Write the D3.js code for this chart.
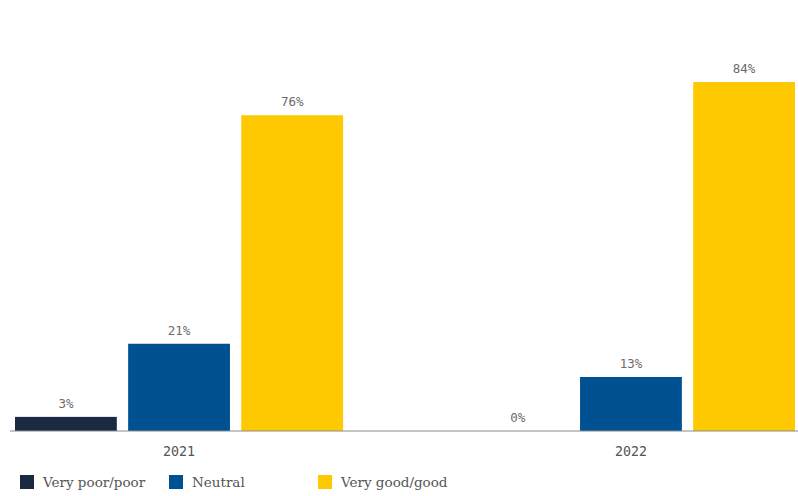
<!DOCTYPE html>
<html>
<head>
<meta charset="utf-8">
<script src="https://cdn.jsdelivr.net/npm/d3@7"></script>
<style>
  body { margin: 0; background: #fff; }
</style>
</head>
<body>
<svg id="chart" width="798" height="496"></svg>
<script>
  // data (labels are rounded)
  var years = ['2021', '2022'];
  var ratings = ['Very poor/poor', 'Neutral', 'Very good/good'];
  var colors = ['#1b2a41', '#005192', '#ffc901'];
  var values2021 = [3.4, 21, 76];
  var values2022 = [0, 13, 84];
  var seriesByYear = [values2021, values2022];

  var svg = d3.select('#chart');
  var baseY = 431;
  var labelFont = '"DejaVu Sans Mono", monospace';

  var x0 = d3.scaleBand().domain(years).range([15, 795]).paddingInner(0.274).paddingOuter(0);
  var x1 = d3.scaleBand().domain(ratings).range([0, x0.bandwidth()]).paddingInner(0.1).paddingOuter(0);
  var y = d3.scaleLinear().domain([0, 84]).range([baseY, 82]);

  var groups = svg.selectAll('g.year')
    .data(years)
    .enter().append('g')
    .attr('class', 'year')
    .attr('transform', function (d) { return 'translate(' + x0(d) + ',0)'; });

  groups.each(function (yr, i) {
    var g = d3.select(this);
    var rows = ratings.map(function (r, j) { return { key: r, value: seriesByYear[i][j], color: colors[j] }; });

    g.selectAll('rect')
      .data(rows)
      .enter().append('rect')
      .attr('x', function (d) { return x1(d.key); })
      .attr('y', function (d) { return y(d.value); })
      .attr('width', x1.bandwidth())
      .attr('height', function (d) { return baseY - y(d.value); })
      .attr('fill', function (d) { return d.color; });

    g.selectAll('text.val')
      .data(rows)
      .enter().append('text')
      .attr('class', 'val')
      .attr('x', function (d) { return x1(d.key) + x1.bandwidth() / 2; })
      .attr('y', function (d) { return y(d.value) - 9; })
      .attr('text-anchor', 'middle')
      .attr('font-family', labelFont)
      .attr('font-size', 12.5)
      .attr('fill', '#6b6b6b')
      .text(function (d) { return Math.round(d.value) + '%'; });
  });

  // baseline + year labels
  var xAxis = d3.axisBottom(x0).tickSize(0).tickPadding(16);
  var axisG = svg.append('g')
    .attr('transform', 'translate(0,' + baseY + ')')
    .call(xAxis);
  axisG.select('.domain').remove();
  axisG.append('line')
    .attr('x1', 10).attr('x2', 798)
    .attr('stroke', '#8a8a8a').attr('stroke-width', 1.2);
  axisG.selectAll('.tick text')
    .attr('font-family', labelFont)
    .attr('font-size', 13.3)
    .attr('fill', '#555');

  // legend
  var legendX = [20, 169, 318];
  var legend = svg.selectAll('g.legend')
    .data(ratings)
    .enter().append('g')
    .attr('class', 'legend')
    .attr('transform', function (d, i) { return 'translate(' + legendX[i] + ',475)'; });
  legend.append('rect')
    .attr('width', 14).attr('height', 14)
    .attr('fill', function (d, i) { return colors[i]; });
  legend.append('text')
    .attr('x', 23).attr('y', 12)
    .attr('font-family', '"DejaVu Serif", serif')
    .attr('font-size', 13.5)
    .attr('fill', '#555')
    .text(function (d) { return d; });
</script>
</body>
</html>
